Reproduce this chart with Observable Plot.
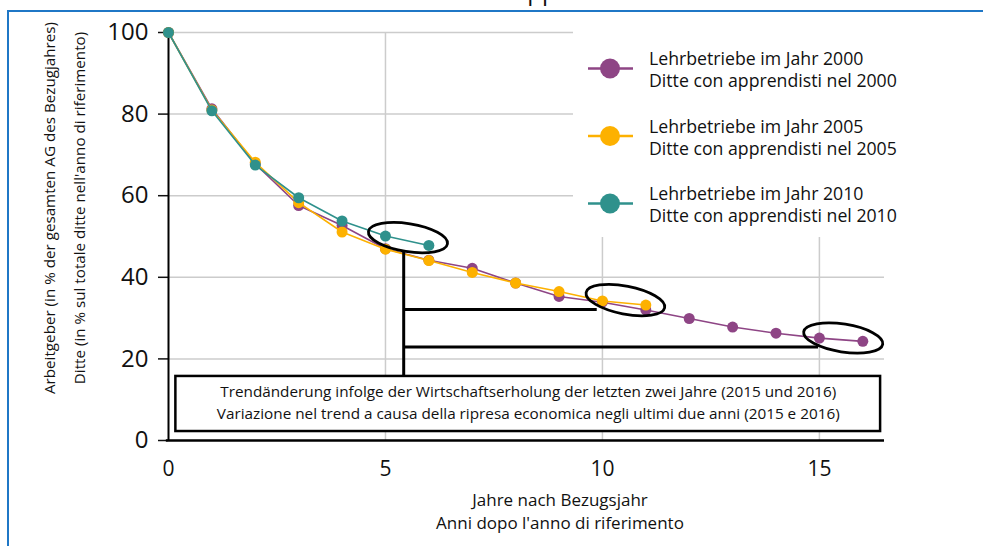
<!DOCTYPE html>
<html>
<head>
<meta charset="utf-8">
<script src="https://cdn.jsdelivr.net/npm/d3@7"></script>
<script src="https://cdn.jsdelivr.net/npm/@observablehq/plot@0.6"></script>
<style>
  html, body { margin: 0; padding: 0; background: #fff; }
  #chart svg { display: block; }
</style>
</head>
<body>
<div id="chart"></div>
<script>
// ---- data ----
const yearsAfter = [0, 1, 2, 3, 4, 5, 6, 7, 8, 9, 10, 11, 12, 13, 14, 15, 16];
const share2000 = [100, 81.3, 67.8, 57.6, 52.7, 47.0, 44.2, 42.2, 38.6, 35.3, 33.9, 32.0, 29.9, 27.8, 26.3, 25.1, 24.3];
const share2005 = [100, 81.0, 68.2, 58.3, 51.1, 46.9, 44.1, 41.2, 38.6, 36.5, 34.2, 33.2];
const share2010 = [100, 80.8, 67.5, 59.5, 53.8, 50.1, 47.8];
const seriesKeys = ["2000", "2005", "2010"];
const seriesLabelsDE = ["Lehrbetriebe im Jahr 2000", "Lehrbetriebe im Jahr 2005", "Lehrbetriebe im Jahr 2010"];
const seriesLabelsIT = ["Ditte con apprendisti nel 2000", "Ditte con apprendisti nel 2005", "Ditte con apprendisti nel 2010"];
const seriesColors = ["#8e4585", "#fdb100", "#2f918c"];
const xTicks = [0, 5, 10, 15];
const yTicks = [0, 20, 40, 60, 80, 100];
const xTitle = ["Jahre nach Bezugsjahr", "Anni dopo l'anno di riferimento"];
const yTitle = ["Arbeitgeber (in % der gesamten AG des Bezugjahres)", "Ditte (in % sul totale ditte nell'anno di riferimento)"];
const noteText = ["Trendänderung infolge der Wirtschaftserholung der letzten zwei Jahre (2015 und 2016)",
                  "Variazione nel trend a causa della ripresa economica negli ultimi due anni (2015 e 2016)"];
// highlighted pairs of points (last two years of each cohort)
const highlightX = [5.53, 10.54, 15.56];
const highlightY = [49.6, 34.3, 25.0];
// bracket connecting the highlights to the note
const bracketX = 5.42;
const bracketTop = 46.2;
const bracketArmsY = [32.1, 22.9];
const bracketArmsEnd = [9.88, 14.98];
const noteBox = {x1: 0.17, x2: 16.41, y1: 2.2, y2: 15.7};

const allSeries = [share2000, share2005, share2010];
const rows = [];
allSeries.forEach((arr, s) => arr.forEach((v, i) => rows.push({series: seriesKeys[s], x: yearsAfter[i], y: v})));

const FONT = "'Open Sans', 'Noto Sans', sans-serif";
const colorOf = k => seriesColors[seriesKeys.indexOf(k)];

const seriesMarks = [];
seriesKeys.forEach(k => {
  const d = rows.filter(r => r.series === k);
  seriesMarks.push(Plot.line(d, {x: "x", y: "y", stroke: colorOf(k), strokeWidth: 1.6}));
  seriesMarks.push(Plot.dot(d, {x: "x", y: "y", r: 5.5, fill: colorOf(k), stroke: "none"}));
});

const plot = Plot.plot({
  width: 983,
  height: 546,
  marginLeft: 168,
  marginRight: 99,
  marginTop: 32,
  marginBottom: 106,
  x: {domain: [0, 16.5]},
  y: {domain: [0, 100]},
  style: {fontFamily: FONT, background: "white", color: "#111"},
  marks: [
    Plot.gridY(yTicks.filter(t => t > 0), {stroke: "#cccccc", strokeOpacity: 1, strokeWidth: 1.5}),
    Plot.gridX(xTicks.filter(t => t > 0), {stroke: "#cccccc", strokeOpacity: 1, strokeWidth: 1.5}),
    Plot.axisY(yTicks, {tickSize: 10, tickPadding: 10, fontSize: 24, label: null, strokeWidth: 1.5, fill: "#111"}),
    Plot.axisX(xTicks, {tickSize: 0, tickPadding: 21, fontSize: 21, label: null, fill: "#111"}),
    Plot.ruleX([0], {y1: 0, y2: 100, stroke: "#000", strokeWidth: 2}),
    Plot.ruleY([0], {x1: -0.05, x2: 16.5, stroke: "#000", strokeWidth: 2.5}),
    ...seriesMarks,
    Plot.ruleX([bracketX], {y1: noteBox.y2, y2: bracketTop, stroke: "#000", strokeWidth: 3}),
    Plot.ruleY(bracketArmsY, {x1: bracketX, x2: (d, i) => bracketArmsEnd[i], stroke: "#000", strokeWidth: 3}),
    Plot.rect([noteBox], {x1: "x1", x2: "x2", y1: "y1", y2: "y2", fill: "white", stroke: "#000", strokeWidth: 2.5}),
    Plot.text([noteText.join("\n")], {x: (noteBox.x1 + noteBox.x2) / 2, y: (noteBox.y1 + noteBox.y2) / 2,
      dy: -3, fontSize: 15.3, lineHeight: 1.44, fill: "#111", fontFamily: FONT})
  ]
});
document.getElementById("chart").appendChild(plot);

const svg = d3.select(plot);
const sx = plot.scale("x"), sy = plot.scale("y");

// highlight ellipses
highlightX.forEach((hx, i) => {
  const cx = sx.apply(hx), cy = sy.apply(highlightY[i]);
  svg.append("ellipse")
    .attr("cx", cx).attr("cy", cy).attr("rx", 40).attr("ry", 14)
    .attr("transform", `rotate(${[9, 11, 9][i]} ${cx} ${cy})`)
    .attr("fill", "none").attr("stroke", "#000").attr("stroke-width", 2.8);
});

// legend (white panel over the grid)
const lg = svg.append("g").attr("text-anchor", "start");
lg.append("rect").attr("x", 573).attr("y", 12).attr("width", 340).attr("height", 225).attr("fill", "white");
seriesKeys.forEach((k, i) => {
  const cy = 68.5 + i * 67.5;
  lg.append("line").attr("x1", 588).attr("x2", 633).attr("y1", cy).attr("y2", cy)
    .attr("stroke", seriesColors[i]).attr("stroke-width", 2.5);
  lg.append("circle").attr("cx", 610).attr("cy", cy).attr("r", 10).attr("fill", seriesColors[i]);
  lg.append("text").attr("x", 649).attr("y", cy - 3.5).attr("text-anchor", "start").text(seriesLabelsDE[i])
    .attr("font-family", FONT).attr("font-size", 17.7).attr("fill", "#111");
  lg.append("text").attr("x", 649).attr("y", cy + 18.5).attr("text-anchor", "start").text(seriesLabelsIT[i])
    .attr("font-family", FONT).attr("font-size", 17.7).attr("fill", "#111");
});

// axis titles
xTitle.forEach((t, i) => {
  svg.append("text").attr("x", 560).attr("y", 506 + i * 23).attr("text-anchor", "middle")
    .attr("font-family", FONT).attr("font-size", 17).attr("fill", "#111").text(t);
});
yTitle.forEach((t, i) => {
  svg.append("text").attr("transform", `translate(${55 + i * 30},208) rotate(-90)`)
    .attr("text-anchor", "middle").attr("font-family", FONT).attr("font-size", 15.2).attr("fill", "#111").text(t);
});

// page frame and clipped heading
svg.append("text").attr("x", 514).attr("y", 0).attr("text-anchor", "start").attr("font-family", FONT).attr("font-size", 24)
  .attr("fill", "#111").text("apprendisti");
svg.append("line").attr("x1", 7).attr("x2", 983).attr("y1", 11).attr("y2", 11).attr("stroke", "#1f77c6").attr("stroke-width", 2);
svg.append("line").attr("x1", 8).attr("x2", 8).attr("y1", 10).attr("y2", 546).attr("stroke", "#1f77c6").attr("stroke-width", 2);
</script>
</body>
</html>
